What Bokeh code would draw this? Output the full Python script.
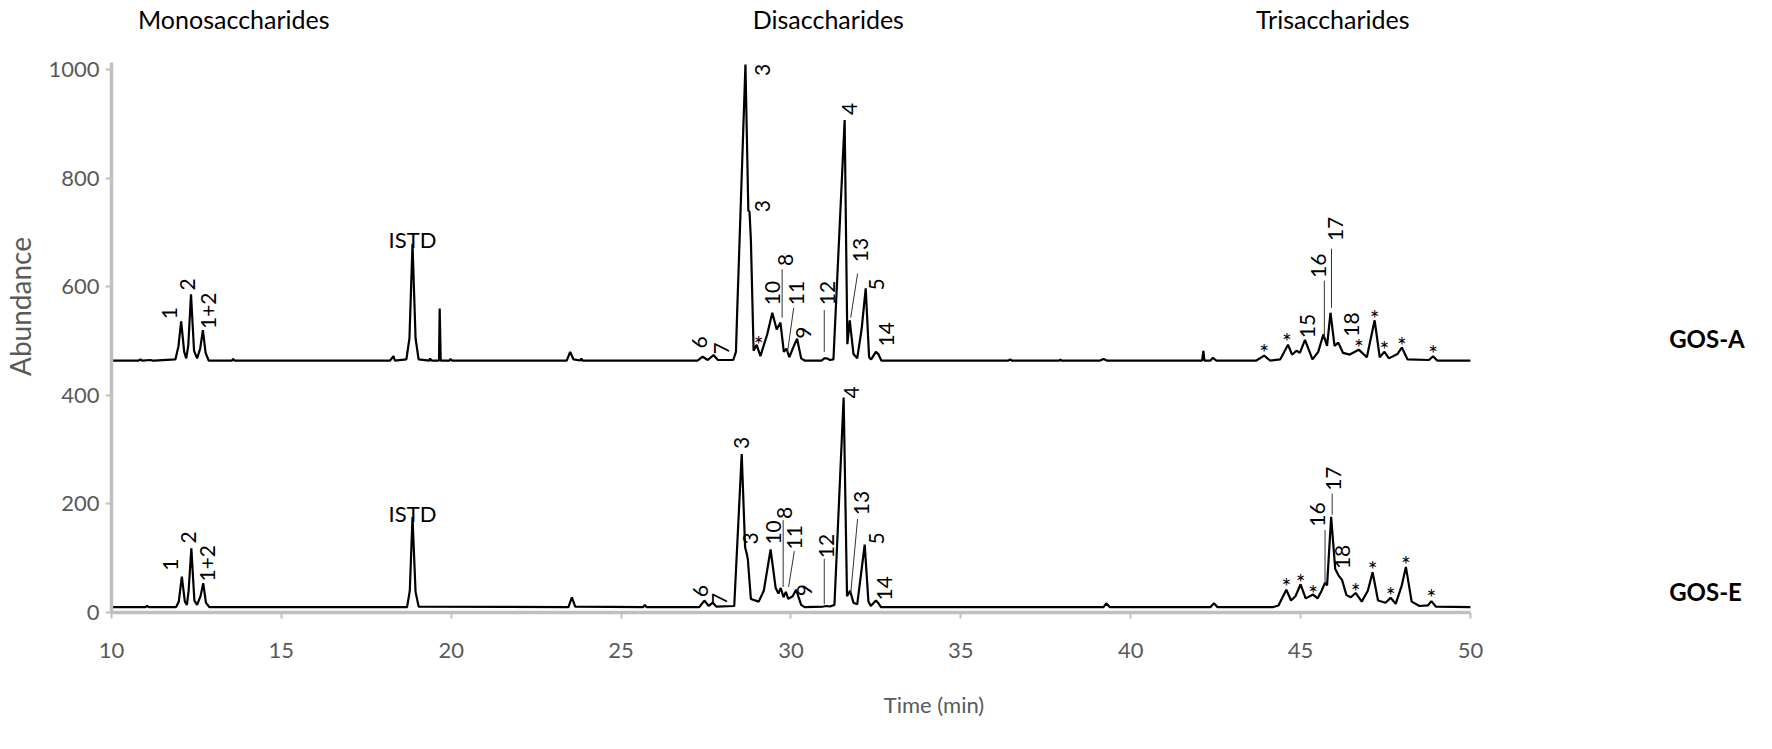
import math
from bokeh.plotting import figure
from bokeh.models import Range1d, FixedTicker
from bokeh.core.properties import value
from bokeh.embed import file_html
from bokeh.resources import INLINE

# ---------------- data ----------------
X_TICKS = [10, 15, 20, 25, 30, 35, 40, 45, 50]
Y_TICKS = [0, 200, 400, 600, 800, 1000]

# GOS-A chromatogram (time, abundance) - drawn offset (baseline ~464)
GOS_A_T = [10.0, 10.8, 10.85, 10.9, 11.15, 11.2, 11.25, 11.88, 11.97, 12.05, 12.14, 12.2, 12.26, 12.34, 12.43,
           12.52, 12.61, 12.69, 12.77, 12.86, 13.55, 13.58, 13.62, 18.2, 18.3, 18.34, 18.68, 18.77, 18.86,
           18.95, 19.04, 19.35, 19.38, 19.41, 19.64, 19.66, 19.69, 19.95, 19.98, 20.02, 23.4, 23.5, 23.6,
           23.8, 23.83, 23.86, 27.25, 27.4, 27.55, 27.72, 27.85, 28.3, 28.38, 28.42, 28.66, 28.745, 28.78,
           28.82, 28.9, 28.99, 29.1, 29.3, 29.45, 29.58, 29.69, 29.79, 29.87, 29.95, 30.08, 30.18, 30.3,
           30.4, 30.9, 30.98, 31.05, 31.15, 31.25, 31.58, 31.66, 31.73, 31.84, 31.95, 32.08, 32.2, 32.3,
           32.36, 32.5, 32.57, 32.66, 36.4, 36.46, 36.5, 37.9, 37.93, 37.96, 39.1, 39.2, 39.3, 42.1, 42.14,
           42.17, 42.35, 42.42, 42.52, 43.7, 43.93, 44.1, 44.4, 44.63, 44.75, 44.88, 44.98, 45.13, 45.35,
           45.52, 45.67, 45.78, 45.88, 46.0, 46.11, 46.25, 46.45, 46.71, 46.95, 47.18, 47.33, 47.47, 47.6,
           47.85, 47.98, 48.15, 48.78, 48.9, 49.02, 50.0]
GOS_A_V = [464, 464, 466, 464, 465, 464, 464, 466, 490, 536, 480, 468, 492, 586, 482,
           468, 486, 520, 478, 464, 464, 467, 464, 464, 472, 464, 466, 505, 679,
           505, 466, 464, 468, 464, 464, 560, 464, 464, 467, 464, 464, 480, 466,
           464, 468, 464, 464, 471, 465, 474, 465, 465, 480, 560, 1009, 740, 738,
           686, 482, 493, 472, 512, 552, 521, 534, 480, 486, 470, 490, 504, 468,
           464, 464, 468, 468, 465, 466, 907, 494, 538, 476, 468, 522, 597, 470,
           466, 480, 476, 464, 464, 466, 464, 464, 466, 464, 464, 467, 464, 464, 482,
           464, 464, 469, 464, 464, 473, 464, 466, 493, 475, 482, 478, 502, 466,
           480, 512, 491, 552, 491, 497, 478, 475, 484, 470, 538, 470, 480, 468,
           476, 488, 466, 465, 472, 464, 464]

# GOS-E chromatogram (time, abundance)
GOS_E_T = [10.0, 11.0, 11.05, 11.1, 11.9, 11.98, 12.07, 12.16, 12.22, 12.27, 12.35, 12.44, 12.52, 12.62,
           12.7, 12.78, 12.88, 18.7, 18.78, 18.86, 18.95, 19.04, 23.45, 23.55, 23.65, 25.65, 25.7, 25.75,
           27.3, 27.45, 27.58, 27.7, 27.8, 28.33, 28.55, 28.65, 28.7, 28.73, 28.82, 29.05, 29.2, 29.4, 29.55,
           29.63, 29.7, 29.78, 29.85, 29.92, 30.05, 30.15, 30.3, 30.4, 30.95, 31.05, 31.15, 31.28, 31.55,
           31.65, 31.74, 31.84, 31.95, 32.08, 32.17, 32.28, 32.35, 32.5, 32.56, 32.65, 39.2, 39.28, 39.38,
           42.35, 42.45, 42.55, 44.2, 44.35, 44.58, 44.72, 44.85, 45.0, 45.15, 45.37, 45.5, 45.62, 45.72,
           45.78, 45.9, 46.02, 46.12, 46.22, 46.35, 46.48, 46.62, 46.8, 46.98, 47.12, 47.28, 47.5, 47.65,
           47.8, 47.98, 48.1, 48.27, 48.5, 48.75, 48.85, 48.98, 50.0]
GOS_E_V = [10, 10, 12, 10, 10, 20, 66, 20, 14, 40, 118, 22, 14, 30,
           54, 18, 10, 10, 40, 176, 38, 11, 10, 28, 11, 10, 14, 10,
           10, 22, 12, 18, 11, 12, 292, 120, 108, 98, 25, 20, 40, 116, 45,
           35, 45, 28, 38, 25, 30, 42, 14, 10, 11, 12, 11, 14, 396,
           30, 40, 18, 15, 80, 125, 20, 12, 22, 18, 10, 10, 17, 10,
           10, 17, 10, 10, 13, 42, 22, 30, 52, 26, 33, 26, 40, 55,
           50, 176, 80, 68, 60, 32, 28, 36, 20, 40, 74, 22, 18, 27,
           16, 50, 84, 20, 12, 13, 21, 11, 10]

# peak labels (rotated), anchored at the bottom of the text
A_LAB = ["1", "2", "1+2", "6", "7", "3", "3", "10", "8", "11", "9", "12", "4", "13", "5", "14", "15", "16", "17", "18"]
A_LAB_T = [11.72, 12.25, 12.85, 27.3, 27.95, 29.15, 29.15, 29.47, 29.84, 30.17, 30.38, 31.08, 31.72, 32.06, 32.52, 32.82, 45.2, 45.54, 46.04, 46.5]
A_LAB_V = [540, 593, 522, 486, 475, 988, 737, 566, 638, 566, 504, 566, 916, 645, 593, 490, 505, 616, 684, 508]

E_LAB = ["1", "2", "1+2", "6", "7", "3", "3", "10", "8", "11", "9", "12", "4", "13", "5", "14", "16", "17", "18"]
E_LAB_T = [11.75, 12.27, 12.82, 27.35, 27.9, 28.53, 28.82, 29.5, 29.8, 30.1, 30.41, 31.06, 31.78, 32.07, 32.53, 32.74, 45.5, 45.98, 46.24]
E_LAB_V = [77, 127, 57, 28, 14, 301, 125, 125, 172, 116, 30, 100, 394, 179, 125, 22, 158, 224, 80]

# leader lines (t0, v0) -> (t1, v1)
A_LEAD_T0 = [29.74, 30.08, 30.98, 31.96, 45.7, 45.91]
A_LEAD_V0 = [632, 561, 557, 624, 611, 670]
A_LEAD_T1 = [29.74, 29.9, 30.98, 31.76, 45.7, 45.91]
A_LEAD_V1 = [543, 480, 480, 543, 507, 561]

E_LEAD_T0 = [29.77, 30.1, 30.98, 31.96, 45.72, 45.93]
E_LEAD_V0 = [170, 113, 99, 172, 152, 219]
E_LEAD_T1 = [29.77, 29.93, 30.98, 31.76, 45.72, 45.93]
E_LEAD_V1 = [47, 47, 15, 36, 50, 180]

# unidentified peaks (*)
A_STAR_T = [29.05, 43.93, 44.6, 46.72, 47.18, 47.47, 47.98, 48.9]
A_STAR_V = [495, 480, 500, 488, 543, 485, 493, 477]
E_STAR_T = [44.58, 45.0, 45.37, 46.62, 47.12, 47.65, 48.1, 48.85]
E_STAR_V = [48, 57, 36, 40, 80, 32, 90, 28]

ISTD_T = [18.86, 18.86]
ISTD_V = [686, 183]

HEAD_TXT = ["Monosaccharides", "Disaccharides", "Trisaccharides"]
HEAD_T = [13.6, 31.1, 45.95]
HEAD_V = [1093, 1093, 1093]

SAMPLE_TXT = ["GOS-A", "GOS-E"]
SAMPLE_T = [55.85, 55.85]
SAMPLE_V = [505, 38]

# ---------------- figure ----------------
FONT = "Lato"
GREY_TXT = "#595959"
GREY_AX = "#bfbfbf"

p = figure(width=1756, height=733, output_backend="svg", toolbar_location=None,
           x_range=Range1d(10, 58.42), y_range=Range1d(0, 1127),
           min_border_left=105, min_border_right=0, min_border_top=0, min_border_bottom=121)
p.outline_line_color = None
p.grid.visible = False
p.background_fill_color = "white"

for ax in (p.xaxis[0], p.yaxis[0]):
    ax.axis_line_color = GREY_AX
    ax.axis_line_width = 3.5
    ax.major_tick_line_color = GREY_AX
    ax.major_tick_line_width = 2
    ax.major_tick_in = 0
    ax.major_tick_out = 6
    ax.minor_tick_line_color = None
    ax.major_label_text_color = GREY_TXT
    ax.major_label_text_font = FONT
    ax.major_label_text_font_size = "22px"
    ax.axis_label_text_color = GREY_TXT
    ax.axis_label_text_font = FONT
    ax.axis_label_text_font_style = "normal"

p.xaxis.ticker = FixedTicker(ticks=X_TICKS)
p.xaxis.bounds = (10, 50)
p.xaxis.major_label_standoff = 24
p.xaxis.axis_label = "Time (min)"
p.xaxis.axis_label_text_font_size = "22px"
p.xaxis.axis_label_standoff = 30

p.yaxis.ticker = FixedTicker(ticks=Y_TICKS)
p.yaxis.bounds = (0, 1012)
p.yaxis.major_label_standoff = 6
p.yaxis.axis_label = "Abundance"
p.yaxis.axis_label_text_font_size = "28px"
p.yaxis.axis_label_standoff = 8

# traces
p.line(GOS_A_T, GOS_A_V, line_color="black", line_width=2.2)
p.line(GOS_E_T, GOS_E_V, line_color="black", line_width=2.2)

# leader lines
p.segment(A_LEAD_T0, A_LEAD_V0, A_LEAD_T1, A_LEAD_V1, line_color="#333333", line_width=1)
p.segment(E_LEAD_T0, E_LEAD_V0, E_LEAD_T1, E_LEAD_V1, line_color="#333333", line_width=1)

# rotated peak labels
for xs, ys, ts in ((A_LAB_T, A_LAB_V, A_LAB), (E_LAB_T, E_LAB_V, E_LAB)):
    p.text(x=xs, y=ys, text=ts, angle=math.pi / 2, text_font=value(FONT), text_font_size="21px",
           text_align="left", text_baseline="middle", text_color="black")

# stars
for xs, ys in ((A_STAR_T, A_STAR_V), (E_STAR_T, E_STAR_V)):
    p.text(x=xs, y=ys, text=["*"] * len(xs), text_font=value(FONT), text_font_size="23px",
           text_align="center", text_baseline="middle", text_color="black")

# ISTD
p.text(x=ISTD_T, y=ISTD_V, text=["ISTD", "ISTD"], text_font=value(FONT), text_font_size="22px",
       text_align="center", text_baseline="alphabetic", text_color="black")

# headers
p.text(x=HEAD_T, y=HEAD_V, text=HEAD_TXT, text_font=value(FONT), text_font_size="25px",
       text_align="center", text_baseline="middle", text_color="black")

# sample names
p.text(x=SAMPLE_T, y=SAMPLE_V, text=SAMPLE_TXT, text_font=value(FONT), text_font_size="24px",
       text_font_style="bold", text_align="left", text_baseline="middle", text_color="black")

open("out.html", "w").write(file_html(p, INLINE))
